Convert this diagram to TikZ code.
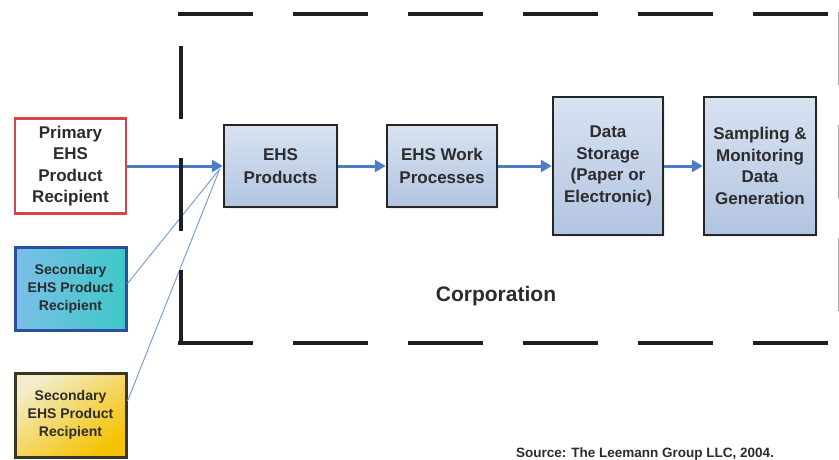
\documentclass[tikz,border=0pt]{standalone}
\usepackage{fontspec}
\setmainfont{Liberation Sans}
\usetikzlibrary{arrows.meta,shadows}

\definecolor{txt}{HTML}{2C2C2C}
\definecolor{flow}{HTML}{4D7CC4}
\definecolor{thin}{HTML}{7D9FD6}
\definecolor{procTop}{HTML}{D8E3F1}
\definecolor{procBot}{HTML}{B2C4E1}
\definecolor{redline}{HTML}{D9434F}
\definecolor{blueline}{HTML}{2D4E9C}
\definecolor{tealL}{HTML}{7ABFE8}
\definecolor{tealR}{HTML}{3EC8C8}
\definecolor{goldA}{HTML}{F3EDCB}
\definecolor{goldB}{HTML}{F5C200}
\definecolor{goldline}{HTML}{3B3524}

\tikzset{
  every node/.style={text=txt, font=\bfseries},
  bigtext/.style={font=\bfseries\fontsize{17}{21.5}\selectfont},
  smalltext/.style={font=\bfseries\fontsize{14}{18}\selectfont},
  box/.style={rectangle, inner sep=0pt, align=center},
  procbox/.style={box, bigtext, draw=black!85, line width=2.5pt,
    top color=procTop, bottom color=procBot,
    drop shadow={opacity=0.12, shadow xshift=2pt, shadow yshift=-2pt}},
  flowarrow/.style={draw=flow, line width=3pt,
    -{Triangle[length=11pt,width=12pt]}},
  feedline/.style={draw=thin, line width=1pt},
  frame/.style={line width=4pt, draw=black!88}
}

\begin{document}
\begin{tikzpicture}[x=1pt, y=-1pt]
  \useasboundingbox (0,0) rectangle (839,459);

  % recipients
  \node[box, bigtext, draw=redline, line width=2.5pt, fill=white,
        minimum width=111pt, minimum height=95pt] (prim) at (70.5,166)
        {Primary\\EHS\\Product\\Recipient};
  \node[box, smalltext, draw=blueline, line width=3pt,
        left color=tealL, right color=tealR,
        minimum width=111pt, minimum height=83pt] (sec1) at (70.5,288.5)
        {Secondary\\EHS Product\\Recipient};
  \node[box, smalltext, draw=goldline, line width=3pt,
        top color=goldA, bottom color=goldB, shading angle=35,
        minimum width=111pt, minimum height=84pt] (sec2) at (70.5,415)
        {Secondary\\EHS Product\\Recipient};

  % process chain
  \node[procbox, minimum width=113pt, minimum height=82pt] (prod) at (280.5,166)
        {EHS\\[1.5pt]Products};
  \node[procbox, minimum width=110pt, minimum height=82pt] (work) at (442,166)
        {EHS Work\\[1.5pt]Processes};
  \node[procbox, minimum width=110pt, minimum height=138pt] (store) at (608,166)
        {Data\\Storage\\(Paper or\\Electronic)};
  \node[procbox, minimum width=112pt, minimum height=138pt] (samp) at (760,166)
        {Sampling \&\\Monitoring\\Data\\Generation};

  % connectors
  \draw[flowarrow] (prim.east) -- (prod.west);
  \draw[flowarrow] (prod.east) -- (work.west);
  \draw[flowarrow] (work.east) -- (store.west);
  \draw[flowarrow] (store.east) -- (samp.west);
  \draw[feedline] ([yshift=5pt]sec1.east) -- ([xshift=-3pt,yshift=-3pt]prod.west);
  \draw[feedline] ([yshift=14pt]sec2.east) -- ([xshift=-3pt,yshift=-3pt]prod.west);

  % corporation boundary
  \draw[frame, dash pattern=on 75pt off 40pt] (178,14) -- (845,14);
  \draw[frame, dash pattern=on 73pt off 39pt] (181,343) -- (181,14);
  \draw[frame, dash pattern=on 75pt off 40pt] (178,343) -- (845,343);
  \draw[frame, draw=black!35, dash pattern=on 73pt off 40pt] (840,12) -- (840,343);

  \node[font=\bfseries\fontsize{21}{25}\selectfont] (corp) at (496,296) {Corporation};
  \node[font=\bfseries\fontsize{13.5}{16}\selectfont, anchor=base] (src) at (645,457)
        {Source: The Leemann Group LLC, 2004.};
\end{tikzpicture}
\end{document}
